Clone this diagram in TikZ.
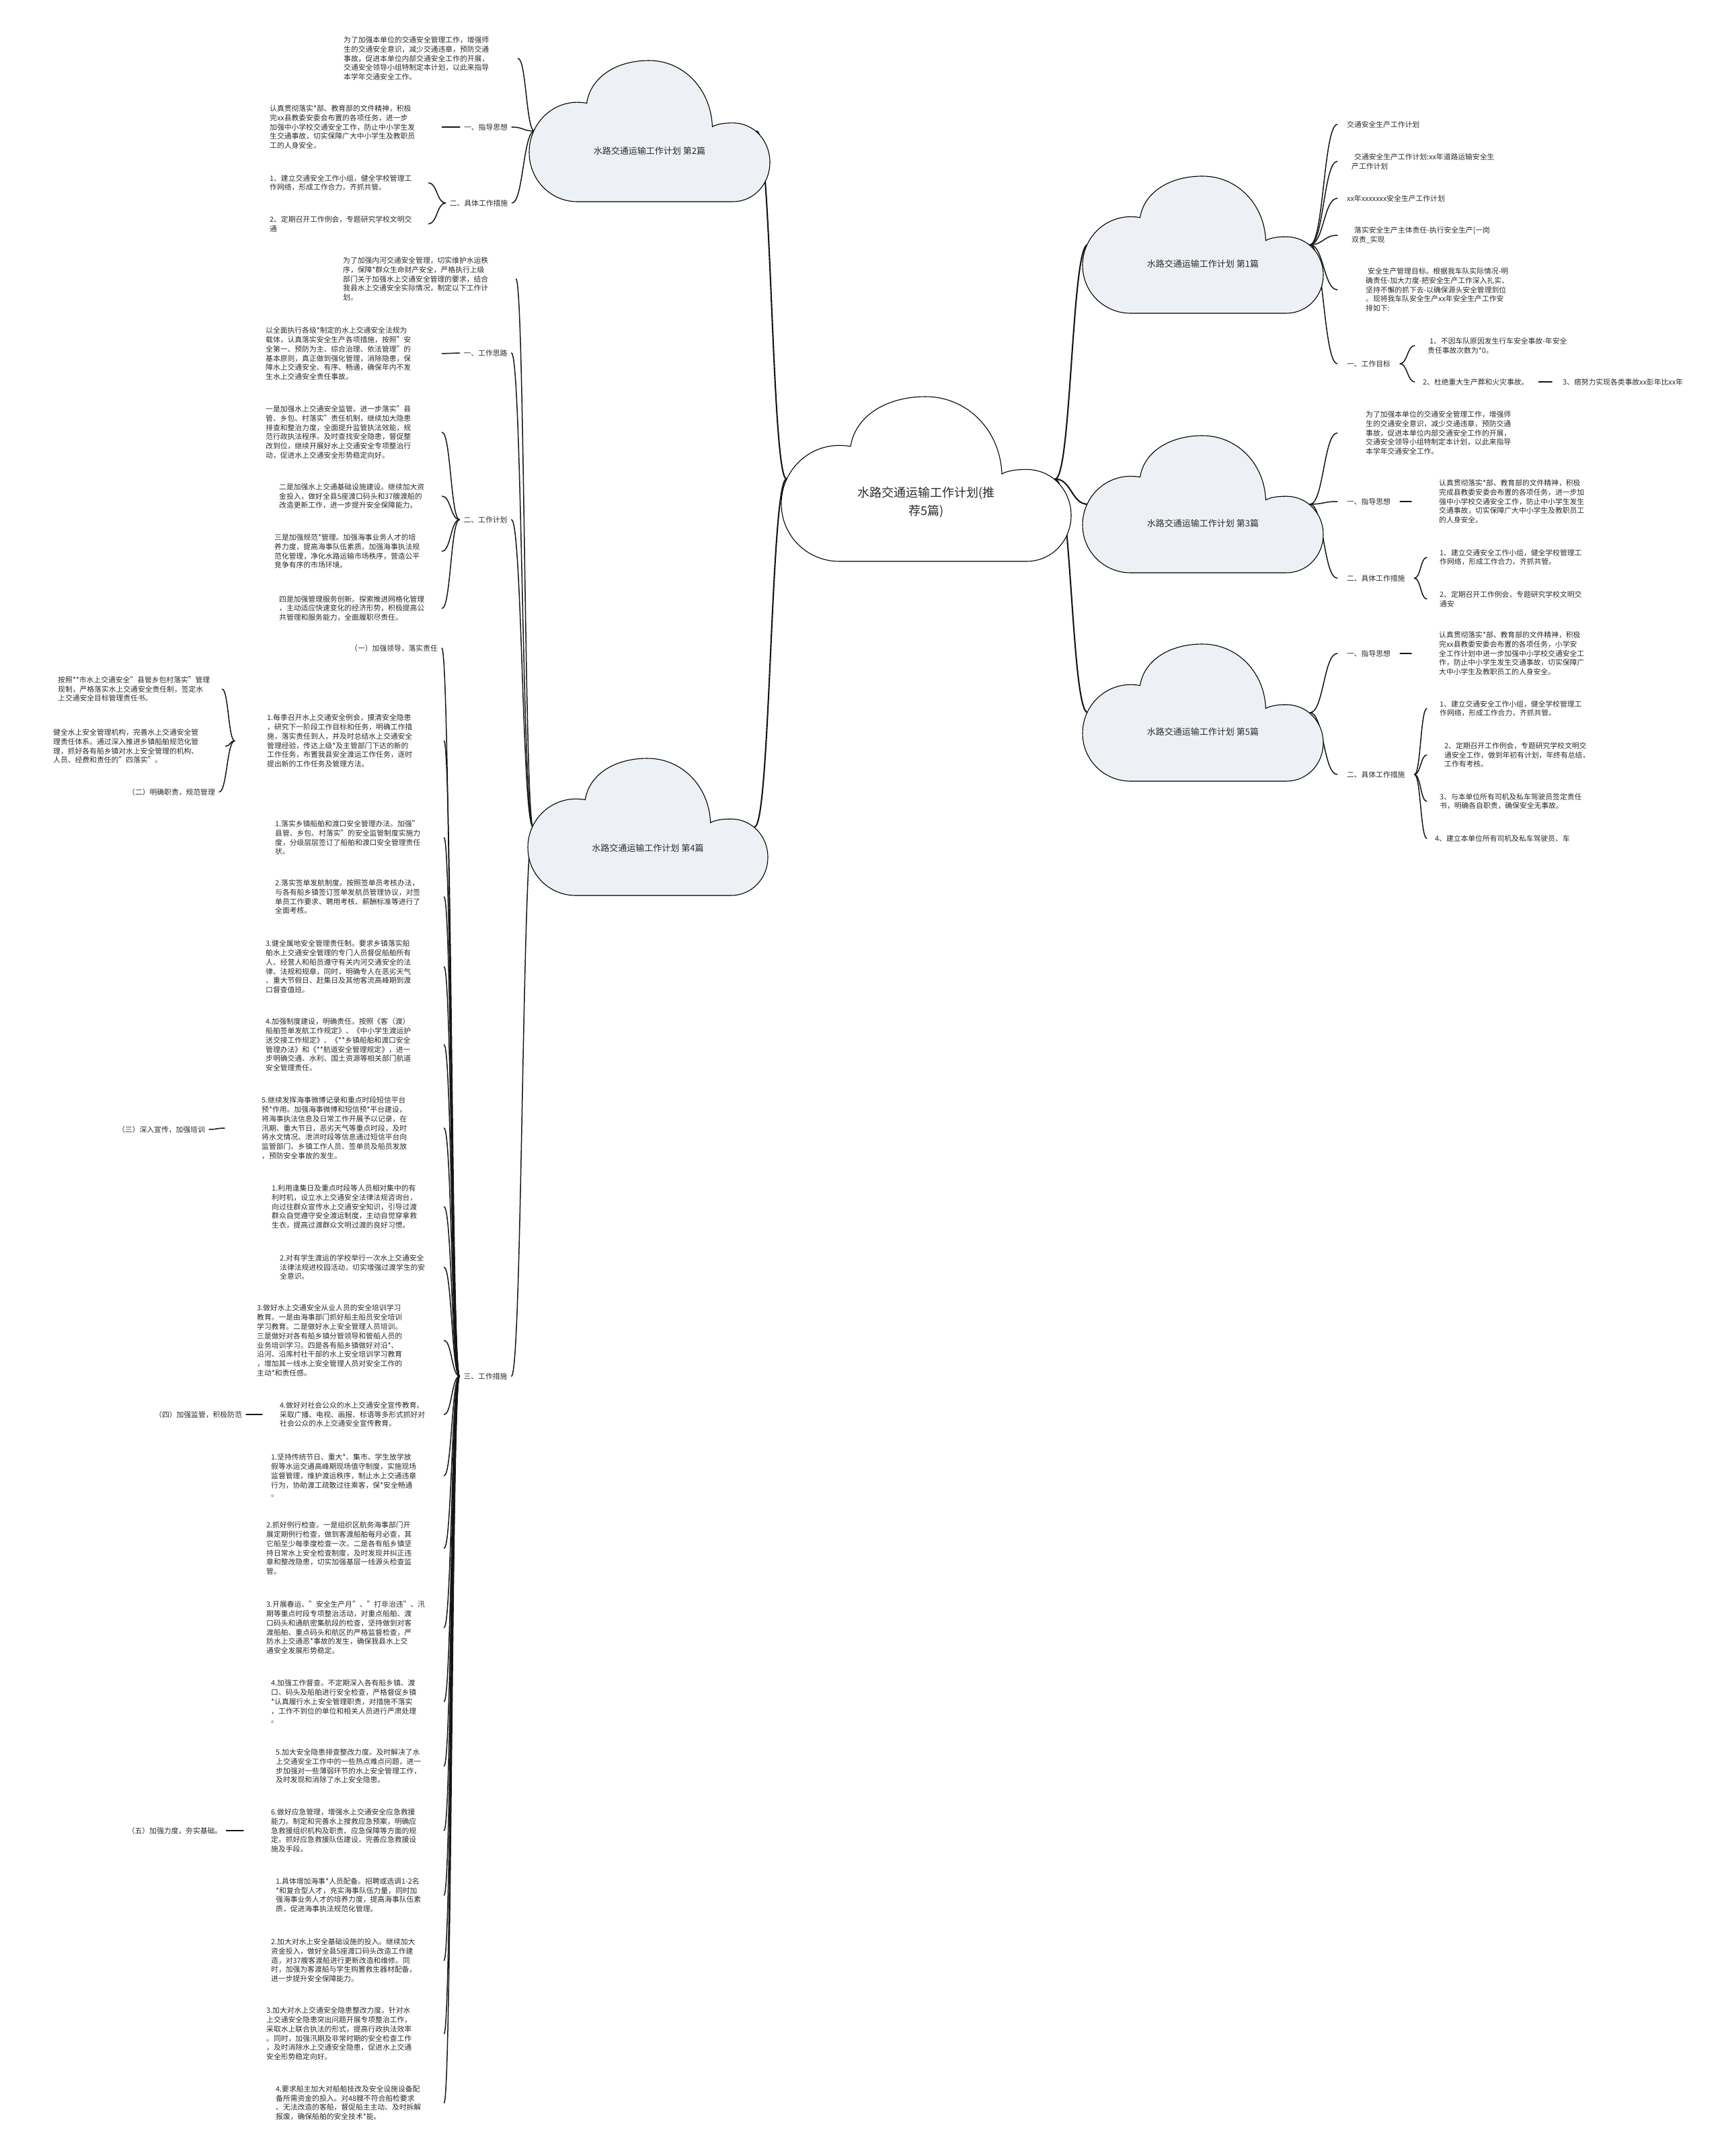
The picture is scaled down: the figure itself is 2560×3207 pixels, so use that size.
\documentclass[tikz,border=0pt]{standalone}
\usepackage{fontspec}
\setmainfont{Noto Sans CJK SC}
\usetikzlibrary{calc}
\definecolor{txtc}{HTML}{2B2B2B}
\definecolor{linec}{HTML}{151515}
\definecolor{cloudfill}{HTML}{EDF0F4}
\newcommand\fsmall{\fontsize{10.8}{13.8}\selectfont}
\newcommand\linkto[3][]{\draw[conn,#1] let \p1=(#2), \p2=(#3) in (\p1) .. controls ({(\x1+\x2)/2},\y1) and ({(\x1+\x2)/2},\y2) .. (\p2);}
\newcommand\drawcloud[5]{\begin{scope}[shift={(#1,#2)},x=#3pt,y=-#4pt]
\filldraw[cloudline,fill=#5] (0.2,1) .. controls (0.0896,1) and (0,0.8455) .. (0,0.65) .. controls (0,0.4545) and (0.0896,0.296) .. (0.2,0.296) .. controls (0.215,0.296) and (0.23,0.299) .. (0.239,0.302) .. controls (0.255,0.12) and (0.36,0) .. (0.498,0) .. controls (0.64,0) and (0.755,0.2) .. (0.761,0.469) .. controls (0.78,0.45) and (0.81,0.442) .. (0.846,0.442) .. controls (0.933,0.442) and (1,0.567) .. (1,0.721) .. controls (1,0.875) and (0.933,1) .. (0.846,1) -- cycle;
\end{scope}}
\begin{document}
\begin{tikzpicture}[x=1pt,y=-1pt,
  txt/.style={anchor=west, align=left, inner xsep=0pt, inner ysep=1pt, font=\fsmall, text=txtc},
  labl/.style={font=\fsmall, text=txtc, inner xsep=6pt, inner ysep=2pt},
  labr/.style={font=\fsmall, text=txtc, inner xsep=14pt, inner ysep=2pt},
  cbox/.style={inner sep=0pt, draw=none},
  ctxt/.style={font=\fontsize{13}{16}\selectfont, text=txtc},
  conn/.style={draw=linec, line width=1.5pt, line cap=round},
  trunk/.style={line width=2.1pt},
  cloudline/.style={draw=black, line width=1.1pt}]
\fill[white] (0,0) rectangle (2560,3207);
\useasboundingbox (0,0) rectangle (2560,3207);

% cloud boxes
\node[cbox, minimum width=431pt, minimum height=245pt] (cc) at (1377.5,712.5) {};
\node[cbox, minimum width=358pt, minimum height=210pt] (b2) at (966,195) {};
\node[cbox, minimum width=357pt, minimum height=204pt] (b4) at (963.5,1230) {};
\node[cbox, minimum width=358pt, minimum height=204pt] (b1) at (1789,364) {};
\node[cbox, minimum width=358pt, minimum height=204pt] (b3) at (1789,750) {};
\node[cbox, minimum width=358pt, minimum height=204pt] (b5) at (1789,1060) {};

% ---------- branch 2 ----------
\node[txt, text width=259pt] (tA) at (511,87) {为了加强本单位的交通安全管理工作，增强师\\生的交通安全意识，减少交通违章，预防交通\\事故，促进本单位内部交通安全工作的开展，\\交通安全领导小组特制定本计划，以此来指导\\本学年交通安全工作。};
\node[labl] (l2a) at (722.5,189) {一、指导思想};
\node[txt, text width=256pt] (tB) at (401,189) {认真贯彻落实*部、教育部的文件精神，积极\\完xx县教委安委会布置的各项任务，进一步\\加强中小学校交通安全工作，防止中小学生发\\生交通事故，切实保障广大中小学生及教职员\\工的人身安全。};
\node[labl] (l2b) at (712,302) {二、具体工作措施};
\node[txt, text width=236pt] (tB1) at (401,272) {1、建立交通安全工作小组，健全学校管理工\\作网络，形成工作合力，齐抓共管。};
\node[txt, text width=236pt] (tB2) at (401,333) {2、定期召开工作例会，专题研究学校文明交\\通};

% ---------- branch 4 ----------
\node[txt, text width=257pt] (tC) at (510,415) {为了加强内河交通安全管理，切实维护水运秩\\序，保障*群众生命财产安全，严格执行上级\\部门关于加强水上交通安全管理的要求，结合\\我县水上交通安全实际情况，制定以下工作计\\划。};
\node[labl] (l4a) at (722,525) {一、工作思路};
\node[txt, text width=262pt] (tD) at (395,526) {以全面执行各级*制定的水上交通安全法规为\\载体，认真落实安全生产各项措施，按照"安\\全第一、预防为主、综合治理、依法管理"的\\基本原则，真正做到强化管理，消除隐患，保\\障水上交通安全、有序、畅通，确保年内不发\\生水上交通安全责任事故。};
\node[labl] (l4b) at (722,773) {二、工作计划};
\node[txt, text width=262pt] (tE1) at (395,643) {一是加强水上交通安全监管。进一步落实"县\\管、乡包、村落实"责任机制，继续加大隐患\\排查和整治力度，全面提升监管执法效能，规\\范行政执法程序。及时查找安全隐患，督促整\\改到位，继续开展好水上交通安全专项整治行\\动，促进水上交通安全形势稳定向好。};
\node[txt, text width=242pt] (tE2) at (415,738) {二是加强水上交通基础设施建设。继续加大资\\金投入，做好全县5座渡口码头和37艘渡船的\\改造更新工作，进一步提升安全保障能力。};
\node[txt, text width=249pt] (tE3) at (408,820) {三是加强规范*管理。加强海事业务人才的培\\养力度，提高海事队伍素质。加强海事执法规\\范化管理，净化水路运输市场秩序，营造公平\\竞争有序的市场环境。};
\node[txt, text width=242pt] (tE4) at (415,905) {四是加强管理服务创新。探索推进网格化管理\\，主动适应快速变化的经济形势，积极提高公\\共管理和服务能力，全面履职尽责任。};
\node[labl] (l4c) at (722,2047) {三、工作措施};
\node[labl] (s1) at (586,964) {（一）加强领导，落实责任};
\node[txt, text width=263pt] (k1) at (397,1102) {1.每季召开水上交通安全例会，摸清安全隐患\\，研究下一阶段工作目标和任务，明确工作措\\施，落实责任到人，并及时总结水上交通安全\\管理经验，传达上级*及主管部门下达的新的\\工作任务，布置我县安全渡运工作任务，逐时\\提出新的工作任务及管理方法。};
\node[txt, text width=244pt] (m1) at (86,1025) {按照**市水上交通安全"县管乡包村落实"管理\\现制，严格落实水上交通安全责任制，签定水\\上交通安全目标管理责任书。};
\node[txt, text width=256pt] (m2) at (79,1110) {健全水上安全管理机构，完善水上交通安全管\\理责任体系。通过深入推进乡镇船舶规范化管\\理，抓好各有船乡镇对水上安全管理的机构、\\人员、经费和责任的"四落实"。};
\node[labl] (s2) at (255,1178) {（二）明确职责，规范管理};
\node[txt, text width=251pt] (k2) at (409,1246) {1.落实乡镇船舶和渡口安全管理办法。加强"\\县管、乡包、村落实"的安全监管制度实施力\\度，分级层层签订了船舶和渡口安全管理责任\\状。};
\node[txt, text width=251pt] (k3) at (409,1334) {2.落实签单发航制度。按照签单员考核办法，\\与各有船乡镇签订签单发航员管理协议，对签\\单员工作要求、聘用考核、薪酬标准等进行了\\全面考核。};
\node[txt, text width=265pt] (k4) at (395,1438) {3.健全属地安全管理责任制。要求乡镇落实船\\舶水上交通安全管理的专门人员督促船舶所有\\人、经营人和船员遵守有关内河交通安全的法\\律、法规和规章，同时，明确专人在恶劣天气\\、重大节假日、赶集日及其他客流高峰期到渡\\口督查值班。};
\node[txt, text width=265pt] (k5) at (395,1554) {4.加强制度建设，明确责任。按照《客（渡）\\船舶签单发航工作规定》、《中小学生渡运护\\送交接工作规定》、《**乡镇船舶和渡口安全\\管理办法》和《**航道安全管理规定》，进一\\步明确交通、水利、国土资源等相关部门航道\\安全管理责任。};
\node[txt, text width=271pt] (k6) at (389,1678) {5.继续发挥海事微博记录和重点时段短信平台\\预*作用。加强海事微博和短信预*平台建设，\\将海事执法信息及日常工作开展予以记录，在\\汛期、重大节日，恶劣天气等重点时段，及时\\将水文情况、泄洪时段等信息通过短信平台向\\监管部门、乡镇工作人员、签单员及船员发放\\，预防安全事故的发生。};
\node[labl] (s3) at (240,1680) {（三）深入宣传，加强培训};
\node[txt, text width=256pt] (k7) at (404,1795) {1.利用逢集日及重点时段等人员相对集中的有\\利时机，设立水上交通安全法律法规咨询台，\\向过往群众宣传水上交通安全知识，引导过渡\\群众自觉遵守安全渡运制度，主动自觉穿拿救\\生衣，提高过渡群众文明过渡的良好习惯。};
\node[txt, text width=244pt] (k8) at (416,1885) {2.对有学生渡运的学校举行一次水上交通安全\\法律法规进校园活动，切实增强过渡学生的安\\全意识。};
\node[txt, text width=278pt] (k9) at (382,1994) {3.做好水上交通安全从业人员的安全培训学习\\教育。一是由海事部门抓好船主船员安全培训\\学习教育。二是做好水上安全管理人员培训。\\三是做好对各有船乡镇分管领导和管船人员的\\业务培训学习。四是各有船乡镇做好对沿*、\\沿河、沿库村社干部的水上安全培训学习教育\\，增加其一线水上安全管理人员对安全工作的\\主动*和责任感。};
\node[txt, text width=244pt] (k10) at (416,2104) {4.做好对社会公众的水上交通安全宣传教育。\\采取广播、电视、画报、标语等多形式抓好对\\社会公众的水上交通安全宣传教育。};
\node[labl] (s4) at (295,2104) {（四）加强监管，积极防范};
\node[txt, text width=257pt] (k11) at (403,2195) {1.坚持传统节日、重大*、集市、学生放学放\\假等水运交通高峰期现场值守制度，实施现场\\监督管理，维护渡运秩序，制止水上交通违章\\行为，协助渡工疏散过往乘客，保*安全畅通\\。};
\node[txt, text width=264pt] (k12) at (396,2303) {2.抓好例行检查。一是组织区航务海事部门开\\展定期例行检查，做到客渡船舶每月必查，其\\它船至少每季度检查一次。二是各有船乡镇坚\\持日常水上安全检查制度，及时发现并纠正违\\章和整改隐患，切实加强基层一线源头检查监\\管。};
\node[txt, text width=264pt] (k13) at (396,2421) {3.开展春运、"安全生产月"、"打非治违"、汛\\期等重点时段专项整治活动，对重点船舶、渡\\口码头和通航密集航段的检查，坚持做到对客\\渡船舶、重点码头和航区的严格监督检查，严\\防水上交通恶*事故的发生，确保我县水上交\\通安全发展形势稳定。};
\node[txt, text width=257pt] (k14) at (403,2531) {4.加强工作督查。不定期深入各有船乡镇、渡\\口、码头及船舶进行安全检查，严格督促乡镇\\{}*认真履行水上安全管理职责，对措施不落实\\，工作不到位的单位和相关人员进行严肃处理\\。};
\node[txt, text width=250pt] (k15) at (410,2627) {5.加大安全隐患排查整改力度。及时解决了水\\上交通安全工作中的一些热点难点问题，进一\\步加强对一些薄弱环节的水上安全管理工作，\\及时发现和消除了水上安全隐患。};
\node[txt, text width=257pt] (k16) at (403,2723) {6.做好应急管理，增强水上交通安全应急救援\\能力。制定和完善水上搜救应急预案，明确应\\急救援组织机构及职责、应急保障等方面的规\\定。抓好应急救援队伍建设，完善应急救援设\\施及手段。};
\node[labl] (s5) at (260,2723) {（五）加强力度，夯实基础。};
\node[txt, text width=250pt] (k17) at (410,2819) {1.具体增加海事*人员配备。招聘或选调1-2名\\{}*和复合型人才，充实海事队伍力量，同时加\\强海事业务人才的培养力度，提高海事队伍素\\质，促进海事执法规范化管理。};
\node[txt, text width=257pt] (k18) at (403,2916) {2.加大对水上安全基础设施的投入。继续加大\\资金投入，做好全县5座渡口码头改造工作建\\造，对37艘客渡船进行更新改造和维修。同\\时，加强为客渡船与学生购置救生器材配备，\\进一步提升安全保障能力。};
\node[txt, text width=264pt] (k19) at (396,3025) {3.加大对水上交通安全隐患整改力度。针对水\\上交通安全隐患突出问题开展专项整治工作，\\采取水上联合执法的形式，提高行政执法效率\\。同时，加强汛期及非常时期的安全检查工作\\，及时消除水上交通安全隐患，促进水上交通\\安全形势稳定向好。};
\node[txt, text width=250pt] (k20) at (410,3128) {4.要求船主加大对船舶技改及安全设施设备配\\备所需资金的投入。对48艘不符合船检要求\\、无法改造的客船，督促船主主动、及时拆解\\报废，确保船舶的安全技术*能。};

% ---------- branch 1 ----------
\node[txt, text width=216pt] (r1) at (2003,185) {交通安全生产工作计划};
\node[txt, text width=224pt] (r2) at (2010,240) {\hspace*{4pt}交通安全生产工作计划:xx年道路运输安全生\\产工作计划};
\node[txt, text width=216pt] (r3) at (2003,295) {xx年xxxxxxx安全生产工作计划};
\node[txt, text width=224pt] (r4) at (2010,350) {\hspace*{4pt}落实安全生产主体责任-执行安全生产[一岗\\双责\_实现};
\node[txt, text width=228pt] (r5) at (2031,431) {\hspace*{3pt}安全生产管理目标。根据我车队实际情况-明\\确责任-加大力度-把安全生产工作深入扎实、\\坚持不懈的抓下去-以确保源头安全管理到位\\。现将我车队安全生产xx年安全生产工作安\\排如下:};
\node[labr] (l1a) at (2035.5,541) {一、工作目标};
\node[txt, text width=221pt] (r6) at (2123,514) {\hspace*{3pt}1、不因车队原因发生行车安全事故-年安全\\责任事故次数为*0。};
\node[txt, text width=172pt] (r7) at (2116,568) {2、杜绝重大生产葬和火灾事故。};
\node[txt, text width=194pt] (r8) at (2324,568) {3、痞努力实现各类事故xx彭年比xx年};

% ---------- branch 3 ----------
\node[txt, text width=228pt] (r9) at (2031,644) {为了加强本单位的交通安全管理工作，增强师\\生的交通安全意识，减少交通违章，预防交通\\事故，促进本单位内部交通安全工作的开展，\\交通安全领导小组特制定本计划，以此来指导\\本学年交通安全工作。};
\node[labr] (l3a) at (2035.5,746) {一、指导思想};
\node[txt, text width=229pt] (r10) at (2140,746) {认真贯彻落实*部、教育部的文件精神，积极\\完成县教委安委会布置的各项任务，进一步加\\强中小学校交通安全工作，防止中小学生发生\\交通事故，切实保障广大中小学生及教职员工\\的人身安全。};
\node[labr] (l3b) at (2046.2,860) {二、具体工作措施};
\node[txt, text width=226pt] (r11) at (2141,829) {1、建立交通安全工作小组，健全学校管理工\\作网络，形成工作合力，齐抓共管。};
\node[txt, text width=226pt] (r12) at (2141,891) {2、定期召开工作例会，专题研究学校文明交\\通安};

% ---------- branch 5 ----------
\node[labr] (l5a) at (2035.5,972) {一、指导思想};
\node[txt, text width=229pt] (r13) at (2140,972) {认真贯彻落实*部、教育部的文件精神，积极\\完xx县教委安委会布置的各项任务，小学安\\全工作计划中进一步加强中小学校交通安全工\\作，防止中小学生发生交通事故，切实保障广\\大中小学生及教职员工的人身安全。};
\node[labr] (l5b) at (2046.2,1152) {二、具体工作措施};
\node[txt, text width=226pt] (r14) at (2141,1054) {1、建立交通安全工作小组，健全学校管理工\\作网络，形成工作合力，齐抓共管。};
\node[txt, text width=224pt] (r15) at (2148,1123) {2、定期召开工作例会，专题研究学校文明交\\通安全工作，做到年初有计划，年终有总结，\\工作有考核。};
\node[txt, text width=226pt] (r16) at (2141,1192) {3、与本单位所有司机及私车驾驶员签定责任\\书，明确各自职责，确保安全无事故。};
\node[txt, text width=223pt] (r17) at (2134,1247) {4、建立本单位所有司机及私车驾驶员、车};

% ---------- connectors ----------
\linkto[trunk]{[xshift=8pt]cc.west}{[xshift=-20pt]b2.east}
\linkto[trunk]{[xshift=8pt]cc.west}{[xshift=-20pt]b4.east}
\linkto[trunk]{[xshift=-24pt]cc.east}{[xshift=8pt]b1.west}
\linkto[trunk]{[xshift=-24pt]cc.east}{[xshift=8pt]b3.west}
\linkto[trunk]{[xshift=-24pt]cc.east}{[xshift=8pt]b5.west}

\linkto{[xshift=8pt]b2.west}{tA.east}
\linkto{[xshift=8pt]b2.west}{l2a.east}
\linkto{[xshift=8pt]b2.west}{l2b.east}
\linkto{l2a.west}{tB.east}
\linkto{l2b.west}{tB1.east}
\linkto{l2b.west}{tB2.east}

\linkto{[xshift=8pt]b4.west}{tC.east}
\linkto{[xshift=8pt]b4.west}{l4a.east}
\linkto{[xshift=8pt]b4.west}{l4b.east}
\linkto{[xshift=8pt]b4.west}{l4c.east}
\linkto{l4a.west}{tD.east}
\linkto{l4b.west}{tE1.east}
\linkto{l4b.west}{tE2.east}
\linkto{l4b.west}{tE3.east}
\linkto{l4b.west}{tE4.east}
\linkto{l4c.west}{s1.east}
\foreach \k in {k1,k2,k3,k4,k5,k6,k7,k8,k9,k10,k11,k12,k13,k14,k15,k16,k17,k18,k19,k20}{\linkto{l4c.west}{\k.east}}
\linkto{[xshift=-48pt]k1.west}{m1.east}
\linkto{[xshift=-48pt]k1.west}{m2.east}
\linkto{[xshift=-48pt]k1.west}{s2.east}
\linkto{s3.east}{[xshift=-55pt]k6.west}
\linkto{s4.east}{[xshift=-26pt]k10.west}
\linkto{s5.east}{[xshift=-41pt]k16.west}

\linkto{[xshift=-20pt]b1.east}{[xshift=-14pt]r1.west}
\linkto{[xshift=-20pt]b1.east}{[xshift=-21pt]r2.west}
\linkto{[xshift=-20pt]b1.east}{[xshift=-14pt]r3.west}
\linkto{[xshift=-20pt]b1.east}{[xshift=-21pt]r4.west}
\linkto{[xshift=-20pt]b1.east}{[xshift=-42pt]r5.west}
\linkto{[xshift=-20pt]b1.east}{l1a.west}
\linkto{l1a.east}{[xshift=-19pt]r6.west}
\linkto{l1a.east}{[xshift=-12pt]r7.west}
\linkto{r7.east}{[xshift=-16pt]r8.west}
\linkto{[xshift=-20pt]b3.east}{[xshift=-42pt]r9.west}
\linkto{[xshift=-20pt]b3.east}{l3a.west}
\linkto{[xshift=-20pt]b3.east}{l3b.west}
\linkto{l3a.east}{[xshift=-41pt]r10.west}
\linkto{l3b.east}{[xshift=-19pt]r11.west}
\linkto{l3b.east}{[xshift=-19pt]r12.west}
\linkto{[xshift=-20pt]b5.east}{l5a.west}
\linkto{[xshift=-20pt]b5.east}{l5b.west}
\linkto{l5a.east}{[xshift=-41pt]r13.west}
\linkto{l5b.east}{[xshift=-19pt]r14.west}
\linkto{l5b.east}{[xshift=-26pt]r15.west}
\linkto{l5b.east}{[xshift=-19pt]r16.west}
\linkto{l5b.east}{[xshift=-12pt]r17.west}

% ---------- clouds ----------
\drawcloud{1162}{590}{431}{245}{white}
\drawcloud{787}{90}{358}{210}{cloudfill}
\drawcloud{785}{1128}{357}{204}{cloudfill}
\drawcloud{1610}{262}{358}{204}{cloudfill}
\drawcloud{1610}{648}{358}{204}{cloudfill}
\drawcloud{1610}{958}{358}{204}{cloudfill}

\node[ctxt, align=center, font=\fontsize{18}{27}\selectfont] (cct) at (1377.5,747) {水路交通运输工作计划(推\\荐5篇)};
\node[ctxt] (b2t) at (966,225) {水路交通运输工作计划 第2篇};
\node[ctxt] (b4t) at (963.5,1262) {水路交通运输工作计划 第4篇};
\node[ctxt] (b1t) at (1789,393) {水路交通运输工作计划 第1篇};
\node[ctxt] (b3t) at (1789,779) {水路交通运输工作计划 第3篇};
\node[ctxt] (b5t) at (1789,1089) {水路交通运输工作计划 第5篇};
\end{tikzpicture}
\end{document}
